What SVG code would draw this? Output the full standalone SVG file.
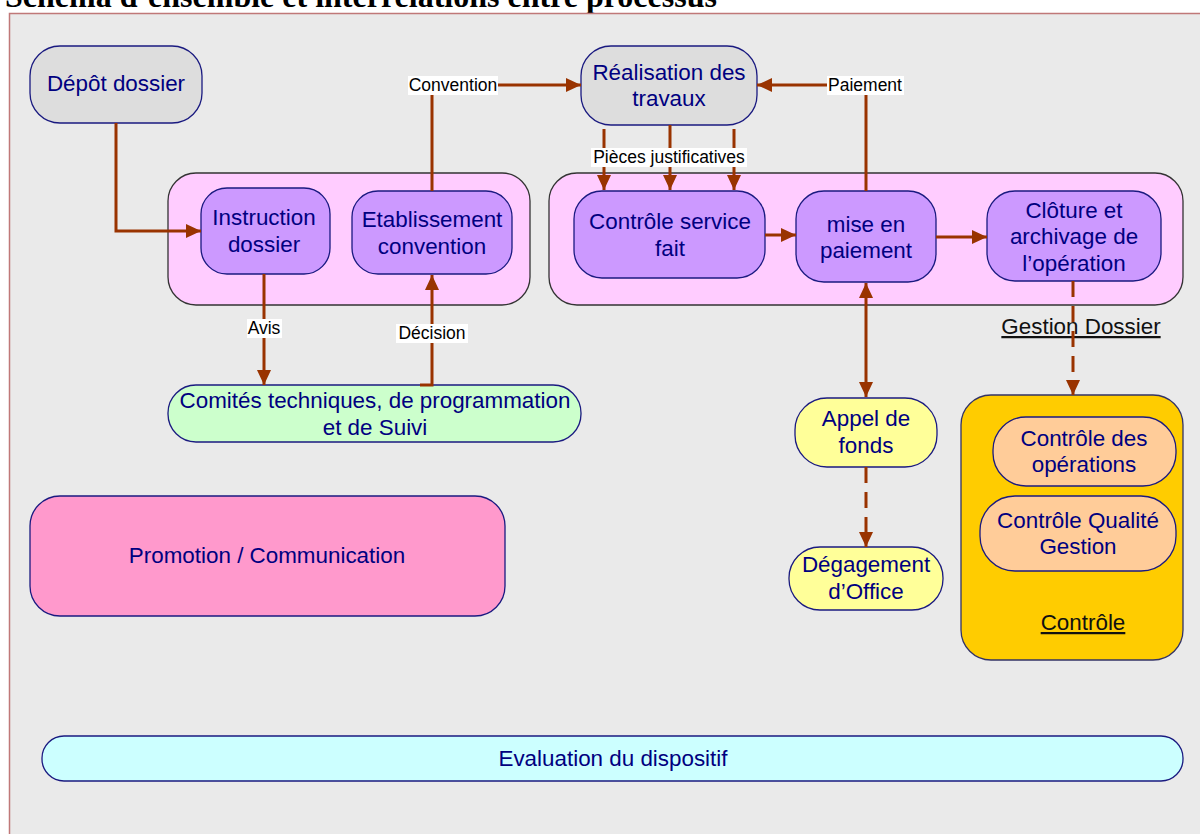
<svg xmlns="http://www.w3.org/2000/svg" width="1200" height="834" viewBox="0 0 1200 834">
<style>
.n{stroke:#1a1a80;stroke-width:1.3}
.g{stroke:#333333;stroke-width:1.3;fill:#ffccff}
.t{font-family:"Liberation Sans",Arial,sans-serif;font-size:22.4px;fill:#000080;text-anchor:middle}
.u{font-family:"Liberation Sans",Arial,sans-serif;font-size:22.4px;fill:#111111;text-anchor:middle;text-decoration:underline}
.l{font-family:"Liberation Sans",Arial,sans-serif;font-size:17.5px;fill:#000000;text-anchor:middle}
.c{fill:none;stroke:#993300;stroke-width:3}
.d{stroke-dasharray:16 9}
</style>
<defs>
<marker id="ah" markerUnits="userSpaceOnUse" markerWidth="16" markerHeight="14" refX="15" refY="7" orient="auto-start-reverse">
<path d="M0,0 L15,7 L0,14 z" fill="#993300"/>
</marker>
</defs>
<rect x="0" y="0" width="1200" height="834" fill="#ffffff"/>
<text x="5" y="6.5" font-family="'Liberation Serif','Times New Roman',serif" font-weight="bold" font-size="32" fill="#000000">Schéma d’ensemble et interrelations entre processus</text>
<rect x="9.5" y="13.5" width="1200" height="830" fill="#eaeaea" stroke="#c07878" stroke-width="1.5"/>

<g id="groupe-instruction"><rect class="g" x="168" y="173" width="362" height="132" rx="28"/></g>
<g id="groupe-gestion"><rect class="g" x="549" y="173" width="634" height="132" rx="28"/>
<text class="u" x="1081" y="334">Gestion Dossier</text></g>
<g id="groupe-controle"><rect x="961" y="395" width="222" height="265" rx="30" fill="#ffcc00" stroke="#333366" stroke-width="1.3"/>
<text class="u" x="1083" y="630">Contrôle</text></g>

<g id="depot"><rect class="n" x="30" y="46" width="172" height="77" rx="30" fill="#dddddd"/>
<text class="t" x="116" y="91">Dépôt dossier</text></g>
<g id="instruction"><rect class="n" x="201" y="188" width="129" height="86" rx="26" fill="#cc99ff"/>
<text class="t" x="264" y="225">Instruction</text><text class="t" x="264" y="252">dossier</text></g>
<g id="etablissement"><rect class="n" x="352" y="191" width="160" height="83" rx="26" fill="#cc99ff"/>
<text class="t" x="432" y="227">Etablissement</text><text class="t" x="432" y="254">convention</text></g>
<g id="comites"><rect class="n" x="168" y="385" width="413" height="57" rx="28" fill="#ccffcc"/>
<text class="t" x="375" y="408">Comités techniques, de programmation</text><text class="t" x="375" y="435">et de Suivi</text></g>
<g id="realisation"><rect class="n" x="581" y="46" width="176" height="79" rx="30" fill="#dddddd"/>
<text class="t" x="669" y="80">Réalisation des</text><text class="t" x="669" y="106">travaux</text></g>
<g id="controle-service"><rect class="n" x="574" y="191" width="191" height="87" rx="28" fill="#cc99ff"/>
<text class="t" x="670" y="229">Contrôle service</text><text class="t" x="670" y="256">fait</text></g>
<g id="mise-en-paiement"><rect class="n" x="796" y="191" width="140" height="91" rx="28" fill="#cc99ff"/>
<text class="t" x="866" y="232">mise en</text><text class="t" x="866" y="258">paiement</text></g>
<g id="cloture"><rect class="n" x="987" y="191" width="174" height="90" rx="28" fill="#cc99ff"/>
<text class="t" x="1074" y="218">Clôture et</text><text class="t" x="1074" y="244">archivage de</text><text class="t" x="1074" y="271">l’opération</text></g>
<g id="appel-de-fonds"><rect class="n" x="795" y="398" width="142" height="69" rx="32" fill="#ffff99"/>
<text class="t" x="866" y="426">Appel de</text><text class="t" x="866" y="453">fonds</text></g>
<g id="degagement"><rect class="n" x="789" y="547" width="154" height="63" rx="31" fill="#ffff99"/>
<text class="t" x="866" y="572">Dégagement</text><text class="t" x="866" y="599">d’Office</text></g>
<g id="controle-operations"><rect class="n" x="993" y="417" width="183" height="69" rx="33" fill="#ffcc99"/>
<text class="t" x="1084" y="446">Contrôle des</text><text class="t" x="1084" y="472">opérations</text></g>
<g id="controle-qualite"><rect class="n" x="980" y="496" width="196" height="75" rx="35" fill="#ffcc99"/>
<text class="t" x="1078" y="528">Contrôle Qualité</text><text class="t" x="1078" y="554">Gestion</text></g>
<g id="promotion"><rect class="n" x="30" y="496" width="475" height="120" rx="30" fill="#ff99cc"/>
<text class="t" x="267" y="563">Promotion / Communication</text></g>
<g id="evaluation"><rect class="n" x="42" y="736" width="1141" height="45" rx="22" fill="#ccffff"/>
<text class="t" x="613" y="766">Evaluation du dispositif</text></g>

<g id="connecteurs">
<polyline class="c" points="116,123 116,231 201,231" marker-end="url(#ah)"/>
<polyline class="c" points="432,191 432,85 581,85" marker-end="url(#ah)"/>
<polyline class="c" points="866,191 866,85 757,85" marker-end="url(#ah)"/>
<line class="c" x1="604" y1="129" x2="604" y2="190" marker-end="url(#ah)"/>
<line class="c" x1="670" y1="125" x2="670" y2="190" marker-end="url(#ah)"/>
<line class="c" x1="734" y1="129" x2="734" y2="190" marker-end="url(#ah)"/>
<line class="c" x1="765" y1="235" x2="796" y2="235" marker-end="url(#ah)"/>
<line class="c" x1="936" y1="237" x2="987" y2="237" marker-end="url(#ah)"/>
<line class="c" x1="866" y1="283" x2="866" y2="397" marker-start="url(#ah)" marker-end="url(#ah)"/>
<line class="c d" x1="1073" y1="281" x2="1073" y2="395" marker-end="url(#ah)"/>
<line class="c d" x1="866" y1="467" x2="866" y2="547" marker-end="url(#ah)"/>
<line class="c" x1="264" y1="274" x2="264" y2="385" marker-end="url(#ah)"/>
<polyline class="c" points="420,385 432,385 432,275" marker-end="url(#ah)"/>
<rect x="408" y="76" width="90" height="19" fill="#ffffff"/><text class="l" x="453" y="91">Convention</text>
<rect x="827" y="76" width="77" height="19" fill="#ffffff"/><text class="l" x="865" y="91">Paiement</text>
<rect x="591" y="148" width="156" height="19" fill="#ffffff"/><text class="l" x="669" y="163">Pièces justificatives</text>
<rect x="247" y="319" width="35" height="19" fill="#ffffff"/><text class="l" x="264" y="334">Avis</text>
<rect x="396" y="324" width="72" height="19" fill="#ffffff"/><text class="l" x="432" y="339">Décision</text>
</g>
</svg>
